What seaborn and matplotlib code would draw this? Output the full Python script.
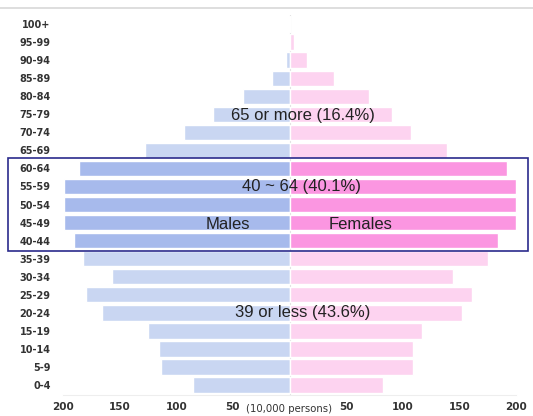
import pandas as pd
import matplotlib
matplotlib.use("Agg")
import matplotlib.pyplot as plt
import seaborn as sns
from matplotlib.patches import Rectangle

# -----------------------------
# Data (10,000 persons)
# -----------------------------
age_groups = ["100+", "95-99", "90-94", "85-89", "80-84", "75-79", "70-74",
              "65-69", "60-64", "55-59", "50-54", "45-49", "40-44", "35-39",
              "30-34", "25-29", "20-24", "15-19", "10-14", "5-9", "0-4"]
males = [0.3, 0.5, 3.4, 15.7, 40.8, 67.8, 93.2, 127.6, 185.6, 198.9, 198.9,
         198.9, 190.0, 182.6, 156.5, 180.0, 165.8, 124.7, 115.0, 113.7, 85.5]
females = [0.5, 4.2, 15.2, 39.3, 70.2, 90.8, 107.0, 139.3, 192.3, 199.7, 199.7,
           200.0, 184.4, 175.0, 144.6, 160.9, 152.0, 116.7, 108.8, 108.8, 82.3]
middle_groups = ["60-64", "55-59", "50-54", "45-49", "40-44"]

tick_values = [-200, -150, -100, -50, 0, 50, 100, 150, 200]
tick_labels = ["200", "150", "100", "50", "", "50", "100", "150", "200"]

df = pd.DataFrame({"age": age_groups, "male": males, "female": females})
df["male_neg"] = -df["male"]

# colours: highlighted 40-64 band
male_pal = {a: ("#a7baec" if a in middle_groups else "#c9d6f2") for a in age_groups}
female_pal = {a: ("#fb96e1" if a in middle_groups else "#fdd3f0") for a in age_groups}

# -----------------------------
# Plot
# -----------------------------
sns.set_style("white")
fig = plt.figure(figsize=(5.33, 4.16), dpi=100)
ax = fig.add_axes([63 / 533, 1 - 395 / 416, (516 - 63) / 533, (395 - 15) / 416])

sns.barplot(data=df, x="male_neg", y="age", hue="age", palette=male_pal,
            order=age_groups, orient="h", width=0.85, legend=False, ax=ax,
            saturation=1)
sns.barplot(data=df, x="female", y="age", hue="age", palette=female_pal,
            order=age_groups, orient="h", width=0.85, legend=False, ax=ax,
            saturation=1)

ax.set_xlim(-200, 200)
ax.set_ylim(20.55, -0.5)
ax.axvline(0, color="#dddddd", lw=0.8, zorder=0)

ax.set_xticks(tick_values)
ax.set_xticklabels(tick_labels, fontsize=7.5, fontweight="bold", color="#333333")
ax.tick_params(axis="y", length=0, pad=9, labelsize=7)
ax.tick_params(axis="x", length=0, pad=5)
for lbl in ax.get_yticklabels():
    lbl.set_fontweight("bold")
    lbl.set_color("#333333")
ax.set_xlabel("")
ax.set_ylabel("")
ax.text(0, 21.3, "(10,000 persons)", ha="center", va="center", fontsize=7.3,
        color="#333333")

for side in ["top", "right", "left"]:
    ax.spines[side].set_visible(False)
ax.spines["bottom"].set_color("#eeeeee")
ax.spines["bottom"].set_linewidth(0.8)

# box around the 40-64 group
ax.add_patch(Rectangle((-248.6, 7.42), 459.2, 5.16, fill=False,
                       edgecolor="#2b2b8c", lw=1.2, clip_on=False, zorder=5))

# annotations
txt = dict(ha="center", va="center", fontsize=12, color="#222222",
           family="Liberation Sans")
ax.text(12, 5.05, "65 or more (16.4%)", **txt)
ax.text(11, 9.0, "40 ~ 64 (40.1%)", **txt)
ax.text(-54, 11.1, "Males", **txt)
ax.text(63, 11.1, "Females", **txt)
ax.text(12, 16.0, "39 or less (43.6%)", **txt)

# faint line across the top
fig.add_artist(plt.Line2D([0, 1], [1 - 8 / 416, 1 - 8 / 416], color="#d8d8d8", lw=1.2))

fig.savefig("out.png", dpi=100)
plt.close()
